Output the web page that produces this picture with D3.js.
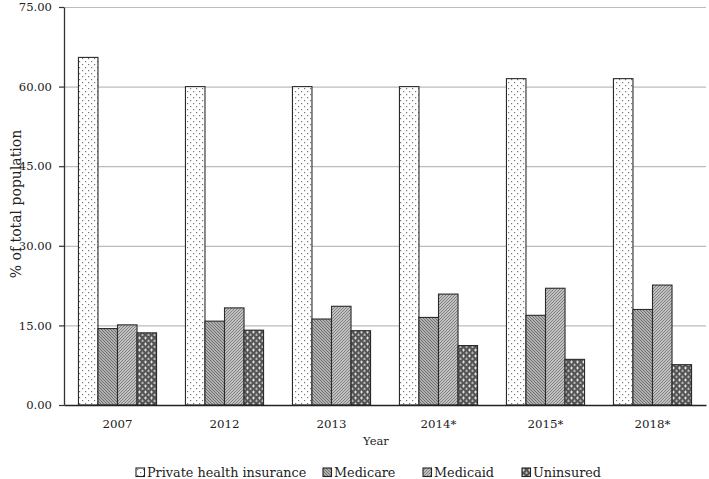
<!DOCTYPE html>
<html><head><meta charset="utf-8">
<script src="https://cdn.jsdelivr.net/npm/d3@7"></script>
<style>body{margin:0;background:#fff;} text{font-family:"DejaVu Serif",serif;}</style>
</head><body>
<svg id="c" width="709" height="479"></svg>
<script>
const years = ["2007","2012","2013","2014*","2015*","2018*"];
const seriesNames = ["Private health insurance","Medicare","Medicaid","Uninsured"];
const privateIns = [65.5, 60.0, 60.0, 60.0, 61.5, 61.5];
const medicare   = [14.4, 15.8, 16.2, 16.5, 16.9, 18.0];
const medicaid   = [15.1, 18.3, 18.6, 20.9, 22.0, 22.6];
const uninsured  = [13.6, 14.1, 14.0, 11.2, 8.6, 7.6];
const yTicks = [0, 15, 30, 45, 60, 75];
const seriesValues = [privateIns, medicare, medicaid, uninsured];

(function(){
const FONT = "DejaVu Serif, serif";
const svg = d3.select("#c");
const defs = svg.append("defs");
const pDots = defs.append("pattern").attr("id","pDots").attr("patternUnits","userSpaceOnUse").attr("width",6).attr("height",6);
pDots.append("rect").attr("width",6).attr("height",6).attr("fill","#fff");
pDots.append("rect").attr("x",1).attr("y",1).attr("width",1.2).attr("height",1.2).attr("fill","#777");
pDots.append("rect").attr("x",4).attr("y",4).attr("width",1.2).attr("height",1.2).attr("fill","#777");

const pMed = defs.append("pattern").attr("id","pMed").attr("patternUnits","userSpaceOnUse").attr("width",3).attr("height",3);
pMed.append("rect").attr("width",3).attr("height",3).attr("fill","#b0b0b0");
pMed.append("path").attr("d","M0,0 L3,3 M-1,2 L1,4 M2,-1 L4,1").attr("stroke","#6a6a6a").attr("stroke-width",0.9);

const pMcd = defs.append("pattern").attr("id","pMcd").attr("patternUnits","userSpaceOnUse").attr("width",3).attr("height",3);
pMcd.append("rect").attr("width",3).attr("height",3).attr("fill","#c0c0c0");
pMcd.append("path").attr("d","M0,3 L3,0 M-1,1 L1,-1 M2,4 L4,2").attr("stroke","#7a7a7a").attr("stroke-width",0.9);

const pUn = defs.append("pattern").attr("id","pUn").attr("patternUnits","userSpaceOnUse").attr("width",6).attr("height",6);
pUn.append("rect").attr("width",6).attr("height",6).attr("fill","#555");
pUn.append("path").attr("d","M1.5,0.5 L1.5,3.5 M0,2 L3,2").attr("stroke","#e8e8e8").attr("stroke-width",0.9);
pUn.append("path").attr("d","M4.5,3.5 L4.5,6.5 M3,5 L6,5").attr("stroke","#bbb").attr("stroke-width",0.9);
const fills = ["url(#pDots)","url(#pMed)","url(#pMcd)","url(#pUn)"];

const L=64, R=706, T=7, B=405;
const y = d3.scaleLinear().domain([0,75]).range([B, T]);
const x0 = d3.scaleBand().domain(years).range([L,R]).paddingInner(0.27).paddingOuter(0.135);
const x1 = d3.scaleBand().domain(seriesNames).range([0, x0.bandwidth()]);

svg.append("g").selectAll("line").data(yTicks.filter(d=>d>0)).join("line")
  .attr("x1",L).attr("x2",R).attr("y1",d=>y(d)+0.5).attr("y2",d=>y(d)+0.5)
  .attr("stroke","#bcbcbc").attr("stroke-width",1.2);

const g = svg.append("g");
years.forEach((yr,i)=>{
  seriesNames.forEach((s,j)=>{
    const v = seriesValues[j][i];
    g.append("rect").attr("x",x0(yr)+x1(s)).attr("y",y(v)).attr("width",x1.bandwidth()).attr("height",y(0)-y(v))
     .attr("fill",fills[j]).attr("stroke","#2a2a2a").attr("stroke-width",1.1);
  });
});

const ya = svg.append("g").attr("transform",`translate(${L},0)`)
  .call(d3.axisLeft(y).tickValues(yTicks).tickFormat(d3.format(".2f")).tickSize(5).tickSizeOuter(0));
ya.select(".domain").attr("stroke","#333").attr("stroke-width",1.3);
ya.selectAll(".tick line").attr("stroke","#333").attr("stroke-width",1.2);
ya.selectAll(".tick text").attr("font-size",11.6).attr("fill","#222").attr("font-family",FONT).attr("x",-12);

const xa = svg.append("g").attr("transform",`translate(0,${B})`)
  .call(d3.axisBottom(x0).tickSize(0).tickSizeOuter(0));
xa.select(".domain").attr("stroke","#222").attr("stroke-width",1.4);
xa.selectAll(".tick text").attr("font-size",11.8).attr("fill","#222").attr("font-family",FONT).attr("y",23).attr("dy",0);

svg.append("text").attr("x",376).attr("y",445).attr("text-anchor","middle").attr("font-size",11.5).attr("fill","#222").text("Year");
svg.append("text").attr("transform",`translate(21,204) rotate(-90)`).attr("text-anchor","middle").attr("font-size",14).attr("fill","#222").text("% of total population");

const legX = [136, 323, 423, 522];
const lg = svg.append("g");
seriesNames.forEach((s,j)=>{
  const gg = lg.append("g").attr("transform",`translate(${legX[j]},468)`);
  gg.append("rect").attr("width",8.5).attr("height",8.5).attr("fill",fills[j]).attr("stroke","#222").attr("stroke-width",1.1);
  gg.append("text").attr("x",11).attr("y",9).attr("font-size",12.8).attr("fill","#222").text(s);
});
})();
</script>
</body></html>
